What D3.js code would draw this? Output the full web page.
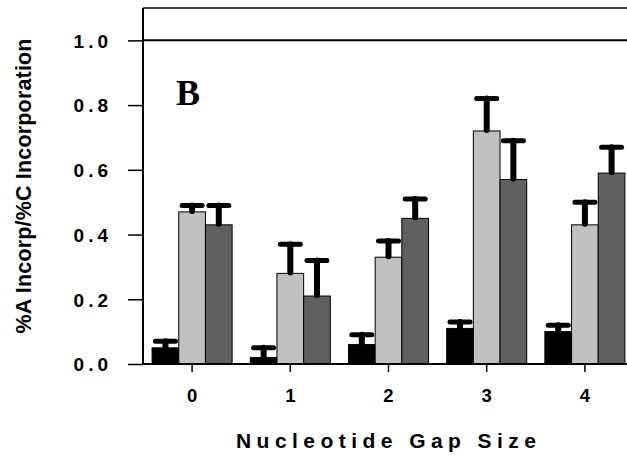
<!DOCTYPE html>
<html><head><meta charset="utf-8">
<script src="https://cdn.jsdelivr.net/npm/d3@7"></script>
<style>body{margin:0;background:#fff}svg{display:block}</style>
</head><body><svg id="c" width="627" height="461"></svg>
<script>
const categories = ["0", "1", "2", "3", "4"];
const seriesNames = ["black", "light", "dark"];
const blackValues = [0.05, 0.02, 0.06, 0.11, 0.10];
const blackErrors = [0.02, 0.03, 0.03, 0.02, 0.02];
const lightValues = [0.47, 0.28, 0.33, 0.72, 0.43];
const lightErrors = [0.02, 0.09, 0.05, 0.10, 0.07];
const darkValues = [0.43, 0.21, 0.45, 0.57, 0.59];
const darkErrors = [0.06, 0.11, 0.06, 0.12, 0.08];
const yTicks = [0.0, 0.2, 0.4, 0.6, 0.8, 1.0];
const seriesColors = ["#000000", "#c0c0c0", "#606060"];

(function () {
const svg = d3.select("#c");
const mLeft = 143, mRight = 634, mTop = 8, mBottom = 364;
const y = d3.scaleLinear().domain([0, 1.1]).range([mBottom, mTop]);
const x = d3.scaleBand().domain(categories).range([mLeft, mRight]).paddingInner(0.185).paddingOuter(0.0925);
const xs = d3.scaleBand().domain(seriesNames).range([0, x.bandwidth()]);

const series = [
  {name: "black", values: blackValues, errors: blackErrors, color: seriesColors[0]},
  {name: "light", values: lightValues, errors: lightErrors, color: seriesColors[1]},
  {name: "dark", values: darkValues, errors: darkErrors, color: seriesColors[2]}
];

svg.append("line").attr("x1", mLeft).attr("x2", 627).attr("y1", mTop).attr("y2", mTop)
  .attr("stroke", "#444").attr("stroke-width", 2);
svg.append("line").attr("x1", mLeft).attr("x2", 627).attr("y1", y(1)).attr("y2", y(1))
  .attr("stroke", "#000").attr("stroke-width", 2);

const g = svg.append("g");
series.forEach(s => {
  g.selectAll(null).data(categories).enter().append("rect")
    .attr("x", (c) => x(c) + xs(s.name))
    .attr("width", xs.bandwidth())
    .attr("y", (c, i) => y(s.values[i]))
    .attr("height", (c, i) => y(0) - y(s.values[i]))
    .attr("fill", s.color).attr("stroke", "#000").attr("stroke-width", 1);
});
series.forEach(s => {
  const eg = g.append("g");
  categories.forEach((c, i) => {
    const cx = x(c) + xs(s.name) + xs.bandwidth() / 2;
    const y0 = y(s.values[i]), y1 = y(s.values[i] + s.errors[i]);
    eg.append("line").attr("x1", cx).attr("x2", cx).attr("y1", y0 - 1).attr("y2", y1)
      .attr("stroke", "#000").attr("stroke-width", 6).attr("stroke-linecap", "round");
    eg.append("line").attr("x1", cx - 10).attr("x2", cx + 10).attr("y1", y1).attr("y2", y1)
      .attr("stroke", "#000").attr("stroke-width", 5).attr("stroke-linecap", "round");
  });
});

const yAxis = d3.axisLeft(y).tickValues(yTicks).tickFormat(d3.format(".1f")).tickSize(15).tickPadding(20);
const ya = svg.append("g").attr("transform", `translate(${mLeft},0)`).call(yAxis);
ya.select(".domain").attr("stroke", "#000").attr("stroke-width", 2).attr("d", `M0,${mTop}V${mBottom}`);
ya.selectAll(".tick line").attr("stroke", "#000").attr("stroke-width", 1.5);
ya.selectAll(".tick text").attr("font-family", "Liberation Sans, Arial, sans-serif")
  .attr("font-weight", "bold").attr("font-size", 19).attr("fill", "#000")
  .attr("letter-spacing", 4).attr("dy", "0.36em").attr("dx", 4);

const xAxis = d3.axisBottom(x).tickSize(8).tickPadding(17);
const xa = svg.append("g").attr("transform", `translate(0,${mBottom})`).call(xAxis);
xa.select(".domain").attr("stroke", "#000").attr("stroke-width", 2).attr("d", `M${mLeft},0H627`);
xa.selectAll(".tick line").attr("stroke", "#000").attr("stroke-width", 1.5);
xa.selectAll(".tick text").attr("font-family", "Liberation Sans, Arial, sans-serif")
  .attr("font-weight", "bold").attr("font-size", 18.5).attr("fill", "#000");

svg.append("text").attr("x", 176).attr("y", 105).text("B")
  .attr("font-family", "Liberation Serif, Times New Roman, serif").attr("font-weight", "bold")
  .attr("font-size", 36).attr("fill", "#000");

svg.append("text").attr("x", 386).attr("y", 448).attr("text-anchor", "middle")
  .attr("font-family", "Liberation Sans, Arial, sans-serif").attr("font-weight", "bold")
  .attr("font-size", 21).attr("textLength", 300).attr("lengthAdjust", "spacing")
  .text("Nucleotide Gap Size");
svg.append("text").attr("transform", "translate(31,186) rotate(-90)").attr("text-anchor", "middle")
  .attr("font-family", "Liberation Sans, Arial, sans-serif").attr("font-weight", "bold")
  .attr("font-size", 21.5).attr("textLength", 295).attr("lengthAdjust", "spacing")
  .text("%A Incorp/%C Incorporation");
})();
</script></body></html>
